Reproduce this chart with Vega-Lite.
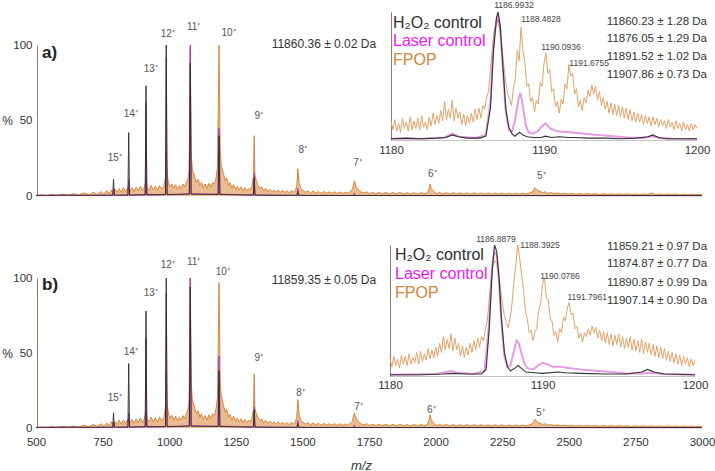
{
"$schema": "https://vega.github.io/schema/vega-lite/v6.json",
"width": 715, "height": 471,
"autosize": {"type": "none"},
"padding": 0,
"background": "white",
"config": {"font": "Liberation Sans", "view": {"stroke": null}, "axis": {"grid": false}},
"datasets": {
"oA": [{"x":500,"y":0.3},{"x":520,"y":0.8},{"x":540,"y":0.3},{"x":560,"y":1},{"x":580,"y":0.4},{"x":600,"y":1.2},{"x":620,"y":0.5},{"x":640,"y":1.5},{"x":660,"y":0.6},{"x":680,"y":2},{"x":700,"y":0.8},{"x":715,"y":2.5},{"x":730,"y":1},{"x":745,"y":3},{"x":755,"y":1.2},{"x":765,"y":3.5},{"x":775,"y":1.8},{"x":783,"y":4},{"x":790,"y":2},{"x":797,"y":4.5},{"x":804,"y":2.5},{"x":812,"y":5},{"x":820,"y":2.5},{"x":828,"y":5.5},{"x":836,"y":3},{"x":843,"y":5},{"x":848,"y":6},{"x":853,"y":3},{"x":860,"y":5.5},{"x":868,"y":3},{"x":876,"y":6},{"x":884,"y":3.5},{"x":892,"y":6.5},{"x":900,"y":3.5},{"x":907,"y":6},{"x":913,"y":10},{"x":918,"y":5},{"x":925,"y":4},{"x":932,"y":7},{"x":940,"y":4},{"x":948,"y":6.5},{"x":956,"y":4},{"x":964,"y":7},{"x":972,"y":4.5},{"x":980,"y":6.5},{"x":986,"y":12},{"x":989,"y":29},{"x":992,"y":15},{"x":997,"y":9},{"x":1003,"y":6},{"x":1010,"y":8},{"x":1017,"y":5},{"x":1024,"y":7.5},{"x":1031,"y":4.5},{"x":1038,"y":7},{"x":1045,"y":5},{"x":1052,"y":8},{"x":1058,"y":6},{"x":1064,"y":9},{"x":1070,"y":11},{"x":1075,"y":17},{"x":1079,"y":97},{"x":1083,"y":28},{"x":1087,"y":17},{"x":1092,"y":15},{"x":1097,"y":12},{"x":1103,"y":9},{"x":1109,"y":11},{"x":1115,"y":7},{"x":1121,"y":9},{"x":1128,"y":5.5},{"x":1135,"y":8},{"x":1142,"y":5},{"x":1149,"y":8.5},{"x":1156,"y":6},{"x":1163,"y":9},{"x":1170,"y":8},{"x":1176,"y":12},{"x":1181,"y":19},{"x":1187,"y":100},{"x":1191,"y":33},{"x":1195,"y":21},{"x":1200,"y":17},{"x":1205,"y":14},{"x":1210,"y":10},{"x":1216,"y":12},{"x":1222,"y":7},{"x":1228,"y":9},{"x":1235,"y":5},{"x":1242,"y":7.5},{"x":1249,"y":4.5},{"x":1256,"y":6.5},{"x":1263,"y":4},{"x":1270,"y":6},{"x":1277,"y":3.5},{"x":1284,"y":5.5},{"x":1291,"y":3.5},{"x":1298,"y":5},{"x":1305,"y":4},{"x":1311,"y":7},{"x":1316,"y":13},{"x":1319,"y":40},{"x":1322,"y":14},{"x":1327,"y":10},{"x":1333,"y":7},{"x":1340,"y":5},{"x":1347,"y":6},{"x":1354,"y":3.5},{"x":1362,"y":5},{"x":1370,"y":3},{"x":1378,"y":4.5},{"x":1386,"y":2.8},{"x":1394,"y":4},{"x":1402,"y":2.5},{"x":1410,"y":4},{"x":1418,"y":2.5},{"x":1426,"y":3.8},{"x":1434,"y":2.3},{"x":1442,"y":3.5},{"x":1450,"y":2.2},{"x":1458,"y":3.5},{"x":1466,"y":2.5},{"x":1474,"y":4},{"x":1479,"y":7},{"x":1483,"y":18},{"x":1487,"y":9},{"x":1492,"y":6},{"x":1498,"y":4},{"x":1505,"y":3.5},{"x":1512,"y":2.5},{"x":1520,"y":3.5},{"x":1530,"y":2},{"x":1540,"y":3.2},{"x":1550,"y":2},{"x":1560,"y":3},{"x":1570,"y":1.8},{"x":1580,"y":3},{"x":1590,"y":1.8},{"x":1600,"y":2.8},{"x":1610,"y":1.8},{"x":1620,"y":2.8},{"x":1630,"y":1.7},{"x":1640,"y":2.7},{"x":1650,"y":1.7},{"x":1660,"y":2.6},{"x":1670,"y":1.8},{"x":1680,"y":3},{"x":1688,"y":4.5},{"x":1695,"y":10},{"x":1700,"y":7},{"x":1706,"y":5},{"x":1713,"y":3.5},{"x":1722,"y":2.5},{"x":1732,"y":2},{"x":1742,"y":2.8},{"x":1752,"y":1.5},{"x":1762,"y":2.5},{"x":1775,"y":1.5},{"x":1788,"y":2.4},{"x":1800,"y":1.4},{"x":1813,"y":2.4},{"x":1826,"y":1.4},{"x":1840,"y":2.3},{"x":1853,"y":1.4},{"x":1866,"y":2.3},{"x":1880,"y":1.4},{"x":1893,"y":2.2},{"x":1906,"y":1.3},{"x":1920,"y":2.2},{"x":1933,"y":1.3},{"x":1946,"y":2.2},{"x":1960,"y":1.5},{"x":1970,"y":2.5},{"x":1976,"y":5},{"x":1979,"y":8},{"x":1984,"y":5},{"x":1990,"y":3.5},{"x":1997,"y":2.5},{"x":2005,"y":1.5},{"x":2015,"y":2.4},{"x":2028,"y":1.3},{"x":2041,"y":2.2},{"x":2054,"y":1.3},{"x":2067,"y":2.2},{"x":2080,"y":1.3},{"x":2093,"y":2.1},{"x":2106,"y":1.3},{"x":2119,"y":2.1},{"x":2132,"y":1.2},{"x":2145,"y":2.1},{"x":2158,"y":1.2},{"x":2171,"y":2},{"x":2184,"y":1.2},{"x":2197,"y":2},{"x":2210,"y":1.2},{"x":2223,"y":2},{"x":2236,"y":1.2},{"x":2249,"y":2},{"x":2262,"y":1.2},{"x":2275,"y":1.9},{"x":2288,"y":1.2},{"x":2301,"y":1.9},{"x":2314,"y":1.2},{"x":2327,"y":1.9},{"x":2340,"y":1.3},{"x":2352,"y":2},{"x":2362,"y":2.5},{"x":2368,"y":4},{"x":2373,"y":5.5},{"x":2378,"y":4.5},{"x":2385,"y":3.5},{"x":2393,"y":3},{"x":2401,"y":2.3},{"x":2410,"y":2.8},{"x":2420,"y":1.8},{"x":2432,"y":2.3},{"x":2445,"y":1.5},{"x":2458,"y":2},{"x":2471,"y":1.3},{"x":2484,"y":1.9},{"x":2497,"y":1.2},{"x":2510,"y":1.8},{"x":2525,"y":1.1},{"x":2540,"y":1.7},{"x":2555,"y":1.1},{"x":2570,"y":1.7},{"x":2585,"y":1.1},{"x":2600,"y":1.6},{"x":2615,"y":1},{"x":2630,"y":1.6},{"x":2645,"y":1},{"x":2660,"y":1.5},{"x":2675,"y":1},{"x":2690,"y":1.5},{"x":2705,"y":1},{"x":2720,"y":1.5},{"x":2735,"y":0.9},{"x":2750,"y":1.4},{"x":2765,"y":0.9},{"x":2780,"y":1.4},{"x":2795,"y":0.9},{"x":2810,"y":2},{"x":2825,"y":0.9},{"x":2840,"y":1.3},{"x":2855,"y":0.9},{"x":2870,"y":1.3},{"x":2885,"y":0.9},{"x":2900,"y":1.3},{"x":2915,"y":0.8},{"x":2930,"y":1.2},{"x":2945,"y":0.8},{"x":2960,"y":1.2},{"x":2975,"y":0.8},{"x":2990,"y":1.1},{"x":3000,"y":0.8}],
"oB": [{"x":500,"y":0.3},{"x":520,"y":0.7},{"x":540,"y":0.4},{"x":560,"y":0.9},{"x":580,"y":0.4},{"x":600,"y":1.1},{"x":620,"y":0.5},{"x":640,"y":1.4},{"x":660,"y":0.6},{"x":680,"y":1.8},{"x":700,"y":0.9},{"x":715,"y":2.4},{"x":730,"y":1.1},{"x":745,"y":2.8},{"x":755,"y":1.3},{"x":765,"y":3.3},{"x":775,"y":1.7},{"x":783,"y":4.2},{"x":790,"y":2.1},{"x":797,"y":4.3},{"x":804,"y":2.4},{"x":812,"y":5.2},{"x":820,"y":2.6},{"x":828,"y":5.4},{"x":836,"y":3.1},{"x":843,"y":5.2},{"x":848,"y":6.5},{"x":853,"y":3.2},{"x":860,"y":5.7},{"x":868,"y":3.1},{"x":876,"y":6.2},{"x":884,"y":3.4},{"x":892,"y":6.8},{"x":900,"y":3.6},{"x":907,"y":6.4},{"x":913,"y":12},{"x":918,"y":5.5},{"x":925,"y":4.2},{"x":932,"y":7.3},{"x":940,"y":4.1},{"x":948,"y":6.8},{"x":956,"y":4.2},{"x":964,"y":7.4},{"x":972,"y":4.6},{"x":980,"y":7},{"x":986,"y":14},{"x":989,"y":37},{"x":992,"y":17},{"x":997,"y":10},{"x":1003,"y":6.5},{"x":1010,"y":8.5},{"x":1017,"y":5.2},{"x":1024,"y":7.8},{"x":1031,"y":4.8},{"x":1038,"y":7.4},{"x":1045,"y":5.3},{"x":1052,"y":8.3},{"x":1058,"y":6.3},{"x":1064,"y":9.5},{"x":1070,"y":12},{"x":1075,"y":18},{"x":1079,"y":100},{"x":1083,"y":30},{"x":1087,"y":18},{"x":1092,"y":16},{"x":1097,"y":12.5},{"x":1103,"y":9.5},{"x":1109,"y":11.5},{"x":1115,"y":7.2},{"x":1121,"y":9.3},{"x":1128,"y":5.8},{"x":1135,"y":8.3},{"x":1142,"y":5.2},{"x":1149,"y":8.8},{"x":1156,"y":6.2},{"x":1163,"y":9.4},{"x":1170,"y":8.5},{"x":1176,"y":13},{"x":1181,"y":20},{"x":1187,"y":97},{"x":1191,"y":34},{"x":1195,"y":22},{"x":1200,"y":18},{"x":1205,"y":14.5},{"x":1210,"y":10.5},{"x":1216,"y":12.5},{"x":1222,"y":7.3},{"x":1228,"y":9.2},{"x":1235,"y":5.2},{"x":1242,"y":7.8},{"x":1249,"y":4.6},{"x":1256,"y":6.7},{"x":1263,"y":4.1},{"x":1270,"y":6.2},{"x":1277,"y":3.6},{"x":1284,"y":5.6},{"x":1291,"y":3.6},{"x":1298,"y":5.2},{"x":1305,"y":4.2},{"x":1311,"y":7.2},{"x":1316,"y":12},{"x":1319,"y":36},{"x":1322,"y":13},{"x":1327,"y":9.5},{"x":1333,"y":6.8},{"x":1340,"y":5},{"x":1347,"y":6},{"x":1354,"y":3.6},{"x":1362,"y":5.1},{"x":1370,"y":3.1},{"x":1378,"y":4.6},{"x":1386,"y":2.9},{"x":1394,"y":4.1},{"x":1402,"y":2.6},{"x":1410,"y":4.1},{"x":1418,"y":2.6},{"x":1426,"y":3.9},{"x":1434,"y":2.4},{"x":1442,"y":3.6},{"x":1450,"y":2.3},{"x":1458,"y":3.6},{"x":1466,"y":2.6},{"x":1474,"y":4.2},{"x":1479,"y":7.5},{"x":1483,"y":19},{"x":1487,"y":9.5},{"x":1492,"y":6.2},{"x":1498,"y":4.1},{"x":1505,"y":3.6},{"x":1512,"y":2.6},{"x":1520,"y":3.6},{"x":1530,"y":2.1},{"x":1540,"y":3.3},{"x":1550,"y":2.1},{"x":1560,"y":3.1},{"x":1570,"y":1.9},{"x":1580,"y":3.1},{"x":1590,"y":1.9},{"x":1600,"y":2.9},{"x":1610,"y":1.9},{"x":1620,"y":2.9},{"x":1630,"y":1.8},{"x":1640,"y":2.8},{"x":1650,"y":1.8},{"x":1660,"y":2.7},{"x":1670,"y":1.9},{"x":1680,"y":3.1},{"x":1688,"y":4.6},{"x":1695,"y":10},{"x":1700,"y":7.2},{"x":1706,"y":5.1},{"x":1713,"y":3.6},{"x":1722,"y":2.6},{"x":1732,"y":2.1},{"x":1742,"y":2.9},{"x":1752,"y":1.6},{"x":1762,"y":2.6},{"x":1775,"y":1.6},{"x":1788,"y":2.5},{"x":1800,"y":1.5},{"x":1813,"y":2.5},{"x":1826,"y":1.5},{"x":1840,"y":2.4},{"x":1853,"y":1.5},{"x":1866,"y":2.4},{"x":1880,"y":1.5},{"x":1893,"y":2.3},{"x":1906,"y":1.4},{"x":1920,"y":2.3},{"x":1933,"y":1.4},{"x":1946,"y":2.3},{"x":1960,"y":1.6},{"x":1970,"y":2.7},{"x":1976,"y":5.5},{"x":1979,"y":9},{"x":1984,"y":5.5},{"x":1990,"y":3.7},{"x":1997,"y":2.6},{"x":2005,"y":1.6},{"x":2015,"y":2.5},{"x":2028,"y":1.4},{"x":2041,"y":2.3},{"x":2054,"y":1.4},{"x":2067,"y":2.3},{"x":2080,"y":1.4},{"x":2093,"y":2.2},{"x":2106,"y":1.4},{"x":2119,"y":2.2},{"x":2132,"y":1.3},{"x":2145,"y":2.2},{"x":2158,"y":1.3},{"x":2171,"y":2.1},{"x":2184,"y":1.3},{"x":2197,"y":2.1},{"x":2210,"y":1.3},{"x":2223,"y":2.1},{"x":2236,"y":1.3},{"x":2249,"y":2.1},{"x":2262,"y":1.3},{"x":2275,"y":2},{"x":2288,"y":1.3},{"x":2301,"y":2},{"x":2314,"y":1.3},{"x":2327,"y":2},{"x":2340,"y":1.4},{"x":2352,"y":2.1},{"x":2362,"y":2.7},{"x":2368,"y":4.2},{"x":2373,"y":5.8},{"x":2378,"y":4.7},{"x":2385,"y":3.7},{"x":2393,"y":3.1},{"x":2401,"y":2.4},{"x":2410,"y":2.9},{"x":2420,"y":1.9},{"x":2432,"y":2.4},{"x":2445,"y":1.6},{"x":2458,"y":2.1},{"x":2471,"y":1.4},{"x":2484,"y":2},{"x":2497,"y":1.3},{"x":2510,"y":1.9},{"x":2525,"y":1.2},{"x":2540,"y":1.8},{"x":2555,"y":1.2},{"x":2570,"y":1.8},{"x":2585,"y":1.2},{"x":2600,"y":1.7},{"x":2615,"y":1.1},{"x":2630,"y":1.7},{"x":2645,"y":1.1},{"x":2660,"y":1.6},{"x":2675,"y":1.1},{"x":2690,"y":1.6},{"x":2705,"y":1.1},{"x":2720,"y":1.6},{"x":2735,"y":1},{"x":2750,"y":1.5},{"x":2765,"y":1},{"x":2780,"y":1.5},{"x":2795,"y":1},{"x":2810,"y":1.4},{"x":2825,"y":1},{"x":2840,"y":1.4},{"x":2855,"y":1},{"x":2870,"y":1.4},{"x":2885,"y":1},{"x":2900,"y":1.4},{"x":2915,"y":0.9},{"x":2930,"y":1.3},{"x":2945,"y":0.9},{"x":2960,"y":1.3},{"x":2975,"y":0.9},{"x":2990,"y":1.2},{"x":3000,"y":0.9}],
"kA": [{"x":500,"y":0.4},{"x":600,"y":0.6},{"x":700,"y":0.5},{"x":788,"y":0.6},{"x":791,"y":11},{"x":794,"y":0.6},{"x":845,"y":0.7},{"x":848,"y":42},{"x":851,"y":0.7},{"x":910,"y":0.9},{"x":913,"y":73},{"x":916,"y":0.9},{"x":986,"y":1},{"x":989,"y":100},{"x":992,"y":1},{"x":1076,"y":1.2},{"x":1079,"y":88},{"x":1082,"y":1.2},{"x":1184,"y":1},{"x":1187,"y":40},{"x":1190,"y":1},{"x":1316,"y":0.6},{"x":1319,"y":12},{"x":1322,"y":0.6},{"x":1480,"y":0.4},{"x":1483,"y":3},{"x":1486,"y":0.4},{"x":2000,"y":0.3},{"x":3000,"y":0.3}],
"mA": [{"x":500,"y":0.3},{"x":789,"y":0.3},{"x":792,"y":5},{"x":795,"y":0.3},{"x":845,"y":0.4},{"x":848,"y":11},{"x":851,"y":0.4},{"x":910,"y":0.6},{"x":913,"y":62},{"x":916,"y":0.6},{"x":986,"y":0.8},{"x":989,"y":92},{"x":992,"y":0.8},{"x":1075,"y":1.5},{"x":1079,"y":100},{"x":1083,"y":1.5},{"x":1183,"y":1.2},{"x":1187,"y":45},{"x":1191,"y":1.2},{"x":1316,"y":0.6},{"x":1319,"y":15},{"x":1322,"y":0.6},{"x":1480,"y":0.4},{"x":1483,"y":5},{"x":1486,"y":0.4},{"x":1692,"y":0.3},{"x":1695,"y":2},{"x":1698,"y":0.3},{"x":3000,"y":0.2}],
"kB": [{"x":500,"y":0.4},{"x":600,"y":0.6},{"x":700,"y":0.5},{"x":788,"y":0.6},{"x":791,"y":10},{"x":794,"y":0.6},{"x":845,"y":0.7},{"x":848,"y":43},{"x":851,"y":0.7},{"x":910,"y":0.9},{"x":913,"y":78},{"x":916,"y":0.9},{"x":986,"y":1},{"x":989,"y":100},{"x":992,"y":1},{"x":1076,"y":1.2},{"x":1079,"y":94},{"x":1082,"y":1.2},{"x":1184,"y":1},{"x":1187,"y":38},{"x":1190,"y":1},{"x":1316,"y":0.6},{"x":1319,"y":12},{"x":1322,"y":0.6},{"x":1480,"y":0.4},{"x":1483,"y":3},{"x":1486,"y":0.4},{"x":2000,"y":0.3},{"x":3000,"y":0.3}],
"mB": [{"x":500,"y":0.3},{"x":789,"y":0.3},{"x":792,"y":4},{"x":795,"y":0.3},{"x":845,"y":0.4},{"x":848,"y":10},{"x":851,"y":0.4},{"x":910,"y":0.6},{"x":913,"y":60},{"x":916,"y":0.6},{"x":986,"y":0.8},{"x":989,"y":90},{"x":992,"y":0.8},{"x":1075,"y":1.5},{"x":1079,"y":100},{"x":1083,"y":1.5},{"x":1183,"y":1.2},{"x":1187,"y":48},{"x":1191,"y":1.2},{"x":1316,"y":0.6},{"x":1319,"y":14},{"x":1322,"y":0.6},{"x":1480,"y":0.4},{"x":1483,"y":5},{"x":1486,"y":0.4},{"x":1692,"y":0.3},{"x":1695,"y":2},{"x":1698,"y":0.3},{"x":3000,"y":0.2}],
"zA": [{"x":796,"y":25.2,"t":"15⁺"},{"x":856,"y":54.3,"t":"14⁺"},{"x":931,"y":84.1,"t":"13⁺"},{"x":995,"y":107.3,"t":"12⁺"},{"x":1092,"y":111.9,"t":"11⁺"},{"x":1223,"y":108,"t":"10⁺"},{"x":1336,"y":53,"t":"9⁺"},{"x":1501,"y":30.5,"t":"8⁺"},{"x":1707,"y":21.9,"t":"7⁺"},{"x":1988,"y":14.6,"t":"6⁺"},{"x":2397,"y":13.2,"t":"5⁺"}],
"zB": [{"x":796,"y":20,"t":"15⁺"},{"x":856,"y":50.7,"t":"14⁺"},{"x":931,"y":90,"t":"13⁺"},{"x":995,"y":108.7,"t":"12⁺"},{"x":1092,"y":110.7,"t":"11⁺"},{"x":1201,"y":104,"t":"10⁺"},{"x":1336,"y":46.7,"t":"9⁺"},{"x":1493,"y":23.3,"t":"8⁺"},{"x":1711,"y":14,"t":"7⁺"},{"x":1984,"y":12,"t":"6⁺"},{"x":2393,"y":10,"t":"5⁺"}],
"oIA": [{"x":1180,"y":15},{"x":1180.125,"y":8},{"x":1180.25,"y":16},{"x":1180.375,"y":7},{"x":1180.5,"y":13},{"x":1180.625,"y":6},{"x":1180.75,"y":17},{"x":1180.875,"y":9},{"x":1181,"y":14},{"x":1181.125,"y":7},{"x":1181.25,"y":18},{"x":1181.375,"y":8},{"x":1181.5,"y":15},{"x":1181.625,"y":9},{"x":1181.75,"y":17},{"x":1181.875,"y":8},{"x":1182,"y":19},{"x":1182.125,"y":10},{"x":1182.25,"y":14},{"x":1182.375,"y":8},{"x":1182.5,"y":18},{"x":1182.625,"y":11},{"x":1182.75,"y":21},{"x":1182.875,"y":12},{"x":1183,"y":19},{"x":1183.125,"y":13},{"x":1183.25,"y":23},{"x":1183.375,"y":15},{"x":1183.5,"y":30},{"x":1183.625,"y":16},{"x":1183.75,"y":24},{"x":1183.875,"y":17},{"x":1184,"y":31},{"x":1184.125,"y":15},{"x":1184.25,"y":25},{"x":1184.375,"y":17},{"x":1184.5,"y":22},{"x":1184.625,"y":12},{"x":1184.75,"y":20},{"x":1184.875,"y":11},{"x":1185,"y":19},{"x":1185.125,"y":13},{"x":1185.25,"y":21},{"x":1185.375,"y":14},{"x":1185.5,"y":24},{"x":1185.625,"y":16},{"x":1185.75,"y":25},{"x":1185.875,"y":17},{"x":1186,"y":27},{"x":1186.125,"y":24},{"x":1186.25,"y":33},{"x":1186.375,"y":38},{"x":1186.5,"y":55},{"x":1186.625,"y":72},{"x":1186.75,"y":86},{"x":1186.875,"y":90},{"x":1187,"y":94},{"x":1187.125,"y":85},{"x":1187.25,"y":72},{"x":1187.375,"y":58},{"x":1187.5,"y":45},{"x":1187.625,"y":36},{"x":1187.75,"y":32},{"x":1187.875,"y":27},{"x":1188,"y":40},{"x":1188.125,"y":48},{"x":1188.25,"y":70},{"x":1188.375,"y":62},{"x":1188.5,"y":88},{"x":1188.625,"y":70},{"x":1188.75,"y":60},{"x":1188.875,"y":42},{"x":1189,"y":44},{"x":1189.125,"y":30},{"x":1189.25,"y":33},{"x":1189.375,"y":22},{"x":1189.5,"y":31},{"x":1189.625,"y":28},{"x":1189.75,"y":45},{"x":1189.875,"y":42},{"x":1190,"y":60},{"x":1190.125,"y":68},{"x":1190.25,"y":52},{"x":1190.375,"y":55},{"x":1190.5,"y":38},{"x":1190.625,"y":40},{"x":1190.75,"y":26},{"x":1190.875,"y":30},{"x":1191,"y":21},{"x":1191.125,"y":32},{"x":1191.25,"y":28},{"x":1191.375,"y":44},{"x":1191.5,"y":40},{"x":1191.625,"y":59},{"x":1191.75,"y":50},{"x":1191.875,"y":52},{"x":1192,"y":36},{"x":1192.125,"y":40},{"x":1192.25,"y":26},{"x":1192.375,"y":31},{"x":1192.5,"y":23},{"x":1192.625,"y":33},{"x":1192.75,"y":29},{"x":1192.875,"y":39},{"x":1193,"y":34},{"x":1193.125,"y":43},{"x":1193.25,"y":36},{"x":1193.375,"y":42},{"x":1193.5,"y":31},{"x":1193.625,"y":38},{"x":1193.75,"y":27},{"x":1193.875,"y":33},{"x":1194,"y":24},{"x":1194.125,"y":30},{"x":1194.25,"y":21},{"x":1194.375,"y":29},{"x":1194.5,"y":20},{"x":1194.625,"y":28},{"x":1194.75,"y":19},{"x":1194.875,"y":27},{"x":1195,"y":18},{"x":1195.125,"y":26},{"x":1195.25,"y":17},{"x":1195.375,"y":25},{"x":1195.5,"y":16},{"x":1195.625,"y":24},{"x":1195.75,"y":15},{"x":1195.875,"y":22},{"x":1196,"y":14},{"x":1196.125,"y":21},{"x":1196.25,"y":14},{"x":1196.375,"y":20},{"x":1196.5,"y":12},{"x":1196.625,"y":19},{"x":1196.75,"y":13},{"x":1196.875,"y":18},{"x":1197,"y":11},{"x":1197.125,"y":18},{"x":1197.25,"y":12},{"x":1197.375,"y":17},{"x":1197.5,"y":10},{"x":1197.625,"y":16},{"x":1197.75,"y":11},{"x":1197.875,"y":15},{"x":1198,"y":9},{"x":1198.125,"y":16},{"x":1198.25,"y":10},{"x":1198.375,"y":14},{"x":1198.5,"y":8},{"x":1198.625,"y":15},{"x":1198.75,"y":9},{"x":1198.875,"y":13},{"x":1199,"y":7},{"x":1199.125,"y":14},{"x":1199.25,"y":8},{"x":1199.375,"y":12},{"x":1199.5,"y":7},{"x":1199.625,"y":13},{"x":1199.75,"y":8},{"x":1199.875,"y":12},{"x":1200,"y":9}],
"kIA": [{"x":1180,"y":1},{"x":1181,"y":1.5},{"x":1182,"y":1},{"x":1183,"y":1.5},{"x":1183.6,"y":2},{"x":1184,"y":4},{"x":1184.4,"y":2.5},{"x":1185,"y":1.5},{"x":1185.8,"y":1.5},{"x":1186.2,"y":3},{"x":1186.5,"y":25},{"x":1186.7,"y":70},{"x":1186.9,"y":96},{"x":1187,"y":100},{"x":1187.15,"y":88},{"x":1187.3,"y":60},{"x":1187.5,"y":25},{"x":1187.7,"y":10},{"x":1187.9,"y":5},{"x":1188.1,"y":3},{"x":1188.4,"y":6},{"x":1188.6,"y":4},{"x":1188.9,"y":2.5},{"x":1189.3,"y":2},{"x":1189.8,"y":2},{"x":1190.1,"y":3},{"x":1190.5,"y":2},{"x":1191,"y":2.5},{"x":1191.6,"y":2},{"x":1192,"y":2},{"x":1193,"y":1.5},{"x":1194,"y":1.5},{"x":1195,"y":1},{"x":1196,"y":1.5},{"x":1196.8,"y":2.5},{"x":1197.1,"y":4},{"x":1197.5,"y":2},{"x":1198,"y":1},{"x":1199,"y":1},{"x":1200,"y":1}],
"mIA": [{"x":1180,"y":1},{"x":1182,"y":1},{"x":1183.5,"y":2},{"x":1184,"y":5},{"x":1184.5,"y":2.5},{"x":1185.5,"y":1.5},{"x":1186.2,"y":4},{"x":1186.5,"y":30},{"x":1186.7,"y":75},{"x":1186.9,"y":95},{"x":1187,"y":97},{"x":1187.15,"y":85},{"x":1187.3,"y":58},{"x":1187.5,"y":22},{"x":1187.7,"y":8},{"x":1187.9,"y":6},{"x":1188.1,"y":15},{"x":1188.3,"y":30},{"x":1188.45,"y":37},{"x":1188.6,"y":28},{"x":1188.8,"y":12},{"x":1189,"y":6},{"x":1189.3,"y":5},{"x":1189.6,"y":7},{"x":1189.9,"y":11},{"x":1190.1,"y":13},{"x":1190.4,"y":9},{"x":1190.8,"y":7},{"x":1191.2,"y":6.5},{"x":1191.7,"y":6},{"x":1192.5,"y":5},{"x":1193.5,"y":4},{"x":1194.5,"y":3},{"x":1195.5,"y":2},{"x":1196.5,"y":1.5},{"x":1197,"y":3},{"x":1197.5,"y":1.5},{"x":1198.5,"y":1},{"x":1200,"y":0.8}],
"oIB": [{"x":1180,"y":14},{"x":1180.125,"y":7},{"x":1180.25,"y":15},{"x":1180.375,"y":8},{"x":1180.5,"y":13},{"x":1180.625,"y":6},{"x":1180.75,"y":16},{"x":1180.875,"y":9},{"x":1181,"y":15},{"x":1181.125,"y":8},{"x":1181.25,"y":17},{"x":1181.375,"y":9},{"x":1181.5,"y":14},{"x":1181.625,"y":10},{"x":1181.75,"y":18},{"x":1181.875,"y":9},{"x":1182,"y":19},{"x":1182.125,"y":11},{"x":1182.25,"y":17},{"x":1182.375,"y":12},{"x":1182.5,"y":21},{"x":1182.625,"y":13},{"x":1182.75,"y":20},{"x":1182.875,"y":14},{"x":1183,"y":22},{"x":1183.125,"y":15},{"x":1183.25,"y":25},{"x":1183.375,"y":18},{"x":1183.5,"y":30},{"x":1183.625,"y":20},{"x":1183.75,"y":28},{"x":1183.875,"y":21},{"x":1184,"y":32},{"x":1184.125,"y":19},{"x":1184.25,"y":29},{"x":1184.375,"y":20},{"x":1184.5,"y":25},{"x":1184.625,"y":15},{"x":1184.75,"y":23},{"x":1184.875,"y":14},{"x":1185,"y":22},{"x":1185.125,"y":16},{"x":1185.25,"y":25},{"x":1185.375,"y":18},{"x":1185.5,"y":27},{"x":1185.625,"y":20},{"x":1185.75,"y":29},{"x":1185.875,"y":22},{"x":1186,"y":30},{"x":1186.125,"y":27},{"x":1186.25,"y":35},{"x":1186.375,"y":42},{"x":1186.5,"y":58},{"x":1186.625,"y":74},{"x":1186.75,"y":84},{"x":1186.875,"y":88},{"x":1187,"y":86},{"x":1187.125,"y":78},{"x":1187.25,"y":66},{"x":1187.375,"y":55},{"x":1187.5,"y":46},{"x":1187.625,"y":41},{"x":1187.75,"y":37},{"x":1187.875,"y":44},{"x":1188,"y":55},{"x":1188.125,"y":72},{"x":1188.25,"y":85},{"x":1188.375,"y":100},{"x":1188.5,"y":90},{"x":1188.625,"y":78},{"x":1188.75,"y":66},{"x":1188.875,"y":50},{"x":1189,"y":44},{"x":1189.125,"y":33},{"x":1189.25,"y":35},{"x":1189.375,"y":27},{"x":1189.5,"y":34},{"x":1189.625,"y":36},{"x":1189.75,"y":50},{"x":1189.875,"y":55},{"x":1190,"y":70},{"x":1190.125,"y":75},{"x":1190.25,"y":60},{"x":1190.375,"y":58},{"x":1190.5,"y":44},{"x":1190.625,"y":42},{"x":1190.75,"y":31},{"x":1190.875,"y":34},{"x":1191,"y":26},{"x":1191.125,"y":36},{"x":1191.25,"y":33},{"x":1191.375,"y":45},{"x":1191.5,"y":42},{"x":1191.625,"y":52},{"x":1191.75,"y":56},{"x":1191.875,"y":47},{"x":1192,"y":48},{"x":1192.125,"y":36},{"x":1192.25,"y":38},{"x":1192.375,"y":29},{"x":1192.5,"y":33},{"x":1192.625,"y":26},{"x":1192.75,"y":33},{"x":1192.875,"y":30},{"x":1193,"y":36},{"x":1193.125,"y":31},{"x":1193.25,"y":38},{"x":1193.375,"y":33},{"x":1193.5,"y":37},{"x":1193.625,"y":29},{"x":1193.75,"y":35},{"x":1193.875,"y":27},{"x":1194,"y":34},{"x":1194.125,"y":25},{"x":1194.25,"y":33},{"x":1194.375,"y":24},{"x":1194.5,"y":32},{"x":1194.625,"y":23},{"x":1194.75,"y":31},{"x":1194.875,"y":24},{"x":1195,"y":32},{"x":1195.125,"y":22},{"x":1195.25,"y":30},{"x":1195.375,"y":21},{"x":1195.5,"y":29},{"x":1195.625,"y":22},{"x":1195.75,"y":30},{"x":1195.875,"y":20},{"x":1196,"y":28},{"x":1196.125,"y":19},{"x":1196.25,"y":27},{"x":1196.375,"y":18},{"x":1196.5,"y":28},{"x":1196.625,"y":17},{"x":1196.75,"y":26},{"x":1196.875,"y":18},{"x":1197,"y":25},{"x":1197.125,"y":16},{"x":1197.25,"y":24},{"x":1197.375,"y":15},{"x":1197.5,"y":23},{"x":1197.625,"y":14},{"x":1197.75,"y":22},{"x":1197.875,"y":13},{"x":1198,"y":21},{"x":1198.125,"y":12},{"x":1198.25,"y":19},{"x":1198.375,"y":11},{"x":1198.5,"y":18},{"x":1198.625,"y":10},{"x":1198.75,"y":17},{"x":1198.875,"y":9},{"x":1199,"y":16},{"x":1199.125,"y":8},{"x":1199.25,"y":15},{"x":1199.375,"y":9},{"x":1199.5,"y":14},{"x":1199.625,"y":7},{"x":1199.75,"y":13},{"x":1199.875,"y":8},{"x":1200,"y":12}],
"kIB": [{"x":1180,"y":1},{"x":1182,"y":1},{"x":1183.5,"y":1.5},{"x":1184,"y":2},{"x":1185,"y":1.5},{"x":1186,"y":1.5},{"x":1186.3,"y":5},{"x":1186.5,"y":35},{"x":1186.7,"y":80},{"x":1186.85,"y":100},{"x":1187,"y":95},{"x":1187.15,"y":75},{"x":1187.3,"y":45},{"x":1187.5,"y":18},{"x":1187.7,"y":7},{"x":1187.9,"y":4},{"x":1188.2,"y":6},{"x":1188.4,"y":8},{"x":1188.6,"y":6},{"x":1188.9,"y":3},{"x":1189.5,"y":2.5},{"x":1190,"y":2},{"x":1191,"y":3},{"x":1191.5,"y":2.5},{"x":1192.5,"y":2},{"x":1194,"y":1.5},{"x":1195.5,"y":1.5},{"x":1196.5,"y":3},{"x":1196.9,"y":5},{"x":1197.3,"y":3},{"x":1198,"y":1.5},{"x":1200,"y":1}],
"mIB": [{"x":1180,"y":1},{"x":1183,"y":1.5},{"x":1183.7,"y":3},{"x":1184,"y":4},{"x":1184.4,"y":2.5},{"x":1185.5,"y":1.5},{"x":1186.2,"y":4},{"x":1186.5,"y":40},{"x":1186.7,"y":85},{"x":1186.85,"y":95},{"x":1187,"y":92},{"x":1187.15,"y":72},{"x":1187.3,"y":42},{"x":1187.5,"y":15},{"x":1187.7,"y":7},{"x":1187.9,"y":8},{"x":1188.1,"y":18},{"x":1188.3,"y":27},{"x":1188.45,"y":25},{"x":1188.6,"y":18},{"x":1188.8,"y":10},{"x":1189,"y":6},{"x":1189.4,"y":5},{"x":1189.7,"y":8},{"x":1190,"y":10},{"x":1190.3,"y":9},{"x":1190.7,"y":7},{"x":1191.2,"y":7},{"x":1191.8,"y":6},{"x":1192.5,"y":5},{"x":1193.5,"y":4},{"x":1194.5,"y":3},{"x":1195.5,"y":2},{"x":1196.5,"y":2},{"x":1197,"y":2.5},{"x":1198,"y":1.5},{"x":1200,"y":1}],
"legA": [{"x":1180.13,"y":91.4,"t":"H₂O₂ control"},{"x":1180.13,"y":77.3,"t":"Laser control"},{"x":1180.13,"y":62.5,"t":"FPOP"}],
"legB": [{"x":1180.33,"y":92.4,"t":"H₂O₂ control"},{"x":1180.33,"y":77.9,"t":"Laser control"},{"x":1180.33,"y":63.4,"t":"FPOP"}],
"massA": [{"x":1200.65,"y":92.2,"t":"11860.23 ± 1.28 Da"},{"x":1200.65,"y":78.9,"t":"11876.05 ± 1.29 Da"},{"x":1200.65,"y":64.8,"t":"11891.52 ± 1.02 Da"},{"x":1200.65,"y":50.8,"t":"11907.86 ± 0.73 Da"}],
"massB": [{"x":1200.79,"y":98.5,"t":"11859.21 ± 0.97 Da"},{"x":1200.79,"y":85.5,"t":"11874.87 ± 0.77 Da"},{"x":1200.79,"y":71,"t":"11890.87 ± 0.99 Da"},{"x":1200.79,"y":57.3,"t":"11907.14 ± 0.90 Da"}],
"pkA": [{"x":1188.04,"y":105.5,"t":"1186.9932"},{"x":1189.8,"y":94.5,"t":"1188.4828"},{"x":1191.11,"y":72.7,"t":"1190.0936"},{"x":1192.95,"y":60.2,"t":"1191.6755"}],
"pkB": [{"x":1186.95,"y":104.5,"t":"1186.8879"},{"x":1189.84,"y":100,"t":"1188.3925"},{"x":1191.15,"y":76.3,"t":"1190.0786"},{"x":1192.93,"y":60.3,"t":"1191.7961"}],
"labA": [{"x":522.5,"y":94.7,"t":"a)"}],
"labB": [{"x":522.5,"y":95.3,"t":"b)"}],
"totA": [{"x":1384.6,"y":100.7,"t":"11860.36  ± 0.02 Da"}],
"totB": [{"x":1384.6,"y":98.7,"t":"11859.35  ± 0.05 Da"}]
},
"layer": [
{
"encoding": {
"x": {"field": "x", "type": "quantitative", "scale": {"domain": [500, 3000], "range": [36, 702], "nice": false, "zero": false}, "axis": null},
"y": {"field": "y", "type": "quantitative", "scale": {"domain": [0, 100], "range": [196, 45], "nice": false, "zero": false}, "axis": {"orient": "left", "offset": -37, "values": [0, 50, 100], "format": "d", "ticks": false, "labelPadding": 5, "labelFontSize": 11.5, "labelColor": "#333", "domainColor": "#b56a86", "title": "%", "titleAngle": 0, "titleX": -30, "titleAlign": "center", "titleBaseline": "middle", "titleFontWeight": "normal", "titleFontSize": 12, "titleColor": "#333"}}
},
"layer": [
{"data": {"name": "oA"}, "mark": {"type": "area", "color": "#dd8f45", "opacity": 0.6}},
{"data": {"name": "oA"}, "mark": {"type": "line", "color": "#cf7420", "strokeWidth": 0.8}},
{"data": {"name": "mA"}, "mark": {"type": "line", "color": "#b52fb5", "strokeWidth": 0.9}},
{"data": {"name": "kA"}, "mark": {"type": "line", "color": "#2a2a2a", "strokeWidth": 0.9}},
{"data": {"name": "zA"}, "mark": {"type": "text", "fontSize": 10, "color": "#555", "align": "center", "baseline": "middle"}, "encoding": {"text": {"field": "t"}}},
{"data": {"name": "labA"}, "mark": {"type": "text", "fontSize": 17, "fontWeight": "bold", "color": "#222", "align": "left", "baseline": "middle"}, "encoding": {"text": {"field": "t"}}},
{"data": {"name": "totA"}, "mark": {"type": "text", "fontSize": 12, "color": "#333", "align": "left", "baseline": "middle"}, "encoding": {"text": {"field": "t"}}}
]
},
{
"encoding": {
"x": {"field": "x", "type": "quantitative", "scale": {"domain": [500, 3000], "range": [36, 702], "nice": false, "zero": false}, "axis": {"orient": "bottom", "offset": -43, "values": [500, 750, 1000, 1250, 1500, 1750, 2000, 2250, 2500, 2750, 3000], "format": "d", "ticks": false, "domain": false, "labelFlush": false, "labelPadding": 8, "labelFontSize": 11.5, "labelColor": "#333", "title": "m/z", "titleFontStyle": "italic", "titleFontWeight": "normal", "titleFontSize": 13, "titleColor": "#333", "titleX": 361, "titleY": 37, "titleBaseline": "middle"}},
"y": {"field": "y", "type": "quantitative", "scale": {"domain": [0, 100], "range": [428, 278], "nice": false, "zero": false}, "axis": {"orient": "left", "offset": -37, "values": [0, 50, 100], "format": "d", "ticks": false, "labelPadding": 5, "labelFontSize": 11.5, "labelColor": "#333", "domainColor": "#a87060", "title": "%", "titleAngle": 0, "titleX": -30, "titleAlign": "center", "titleBaseline": "middle", "titleFontWeight": "normal", "titleFontSize": 12, "titleColor": "#333"}}
},
"layer": [
{"data": {"name": "oB"}, "mark": {"type": "area", "color": "#dd8f45", "opacity": 0.6}},
{"data": {"name": "oB"}, "mark": {"type": "line", "color": "#cf7420", "strokeWidth": 0.8}},
{"data": {"name": "mB"}, "mark": {"type": "line", "color": "#b52fb5", "strokeWidth": 0.9}},
{"data": {"name": "kB"}, "mark": {"type": "line", "color": "#2a2a2a", "strokeWidth": 0.9}},
{"data": {"name": "zB"}, "mark": {"type": "text", "fontSize": 10, "color": "#555", "align": "center", "baseline": "middle"}, "encoding": {"text": {"field": "t"}}},
{"data": {"name": "labB"}, "mark": {"type": "text", "fontSize": 17, "fontWeight": "bold", "color": "#222", "align": "left", "baseline": "middle"}, "encoding": {"text": {"field": "t"}}},
{"data": {"name": "totB"}, "mark": {"type": "text", "fontSize": 12, "color": "#333", "align": "left", "baseline": "middle"}, "encoding": {"text": {"field": "t"}}}
]
},
{
"encoding": {
"x": {"field": "x", "type": "quantitative", "scale": {"domain": [1180, 1200], "range": [391, 697], "nice": false, "zero": false}, "axis": {"orient": "bottom", "offset": -331, "values": [1180, 1190, 1200], "format": "d", "ticks": false, "labelFlush": false, "labelPadding": 4, "labelFontSize": 11.5, "labelColor": "#333", "domainColor": "#c4c4c4", "title": null}},
"y": {"field": "y", "type": "quantitative", "scale": {"domain": [0, 100], "range": [140, 12], "nice": false, "zero": false}, "axis": {"orient": "left", "offset": -391, "labels": false, "ticks": false, "domainColor": "#8a7b72", "title": null}}
},
"layer": [
{"data": {"name": "oIA"}, "mark": {"type": "line", "color": "#e0a46c", "strokeWidth": 1}},
{"data": {"name": "mIA"}, "mark": {"type": "line", "color": "#d45ad4", "strokeWidth": 2, "opacity": 0.6}},
{"data": {"name": "kIA"}, "mark": {"type": "line", "color": "#333333", "strokeWidth": 1.1}},
{"data": {"name": "legA"}, "mark": {"type": "text", "fontSize": 16, "align": "left", "baseline": "middle"}, "encoding": {"text": {"field": "t"}, "color": {"field": "t", "type": "nominal", "scale": {"domain": ["H₂O₂ control", "Laser control", "FPOP"], "range": ["#2e2e2e", "#f01af0", "#d8843a"]}, "legend": null}}},
{"data": {"name": "massA"}, "mark": {"type": "text", "fontSize": 11.5, "color": "#333", "align": "right", "baseline": "middle"}, "encoding": {"text": {"field": "t"}}},
{"data": {"name": "pkA"}, "mark": {"type": "text", "fontSize": 8.5, "color": "#444", "align": "center", "baseline": "middle"}, "encoding": {"text": {"field": "t"}}}
]
},
{
"encoding": {
"x": {"field": "x", "type": "quantitative", "scale": {"domain": [1180, 1200], "range": [390, 695], "nice": false, "zero": false}, "axis": {"orient": "bottom", "offset": -95, "values": [1180, 1190, 1200], "format": "d", "ticks": false, "labelFlush": false, "labelPadding": 3, "labelFontSize": 11.5, "labelColor": "#333", "domainColor": "#c4c4c4", "title": null}},
"y": {"field": "y", "type": "quantitative", "scale": {"domain": [0, 100], "range": [376, 245], "nice": false, "zero": false}, "axis": {"orient": "left", "offset": -390, "labels": false, "ticks": false, "domainColor": "#8a7b72", "title": null}}
},
"layer": [
{"data": {"name": "oIB"}, "mark": {"type": "line", "color": "#e0a46c", "strokeWidth": 1}},
{"data": {"name": "mIB"}, "mark": {"type": "line", "color": "#d45ad4", "strokeWidth": 2, "opacity": 0.6}},
{"data": {"name": "kIB"}, "mark": {"type": "line", "color": "#333333", "strokeWidth": 1.1}},
{"data": {"name": "legB"}, "mark": {"type": "text", "fontSize": 16, "align": "left", "baseline": "middle"}, "encoding": {"text": {"field": "t"}, "color": {"field": "t", "type": "nominal", "scale": {"domain": ["H₂O₂ control", "Laser control", "FPOP"], "range": ["#2e2e2e", "#f01af0", "#d8843a"]}, "legend": null}}},
{"data": {"name": "massB"}, "mark": {"type": "text", "fontSize": 11.5, "color": "#333", "align": "right", "baseline": "middle"}, "encoding": {"text": {"field": "t"}}},
{"data": {"name": "pkB"}, "mark": {"type": "text", "fontSize": 8.5, "color": "#444", "align": "center", "baseline": "middle"}, "encoding": {"text": {"field": "t"}}}
]
}
],
"resolve": {"scale": {"x": "independent", "y": "independent", "color": "independent"}, "axis": {"x": "independent", "y": "independent"}}
}
